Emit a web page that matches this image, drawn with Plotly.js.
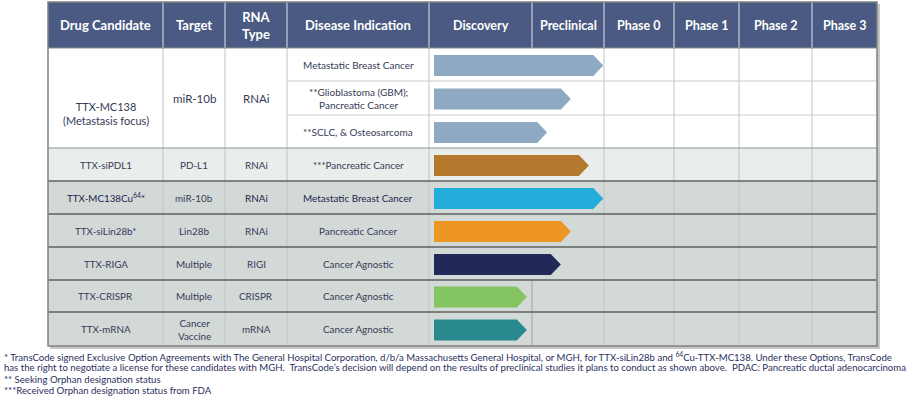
<!DOCTYPE html>
<html><head><meta charset="utf-8">
<script src="https://cdn.plot.ly/plotly-3.0.1.min.js"></script>
<style>html,body{margin:0;padding:0;background:#fff}#chart{width:914px;height:404px}</style>
</head><body><div id="chart"></div>
<script>
// ---------------- data ----------------
const columnHeaders = ["Drug Candidate", "Target", "RNA<br>Type", "Disease Indication"];
const phases = ["Discovery", "Preclinical", "Phase 0", "Phase 1", "Phase 2", "Phase 3"];
const candidates = ["TTX-MC138<br>(Metastasis focus)", "TTX-siPDL1", "TTX-MC138Cu<sup>64</sup>*", "TTX-siLin28b*", "TTX-RIGA", "TTX-CRISPR", "TTX-mRNA"];
const targets = ["miR-10b", "PD-L1", "miR-10b", "Lin28b", "Multiple", "Multiple", "Cancer<br>Vaccine"];
const rnaTypes = ["RNAi", "RNAi", "RNAi", "RNAi", "RIGI", "CRISPR", "mRNA"];
const indications = ["Metastatic Breast Cancer", "**Glioblastoma (GBM);<br>Pancreatic Cancer", "**SCLC, & Osteosarcoma", "***Pancreatic Cancer", "Metastatic Breast Cancer", "Pancreatic Cancer", "Cancer Agnostic", "Cancer Agnostic", "Cancer Agnostic"];
const indicationCandidate = [0, 0, 0, 1, 2, 3, 4, 5, 6];
// progress in phase units (0 = start of Discovery, 1 = start of Preclinical, 2 = start of Phase 0 ...)
const progress = [1.99, 1.54, 1.21, 1.79, 1.99, 1.54, 1.40, 0.95, 0.95];
const barColors = ["#8EA9C1", "#8EA9C1", "#8EA9C1", "#B5792D", "#23ACDC", "#EE9623", "#222858", "#84C562", "#288A8E"];
const footnotes = [
  "* TransCode signed Exclusive Option Agreements with The General Hospital Corporation, d/b/a Massachusetts General Hospital, or MGH, for TTX-siLin28b and <sup>64</sup>Cu-TTX-MC138. Under these Options, TransCode",
  "has the right to negotiate a license for these candidates with MGH.  TransCode\u2019s decision will depend on the results of preclinical studies it plans to conduct as shown above.  PDAC: Pancreatic ductal adenocarcinoma",
  "** Seeking Orphan designation status",
  "***Received Orphan designation status from FDA"
];

// ---------------- geometry ----------------
const colEdges = [48, 163, 225, 287, 429];
const phaseEdges = [429, 532, 604, 674, 739, 812, 877];
const tableTop = 2, headerBottom = 48;
const rowEdges = [48, 81, 115, 148, 181, 214, 247, 280, 312, 346];
const candRowSpan = [[0, 3], [3, 4], [4, 5], [5, 6], [6, 7], [7, 8], [8, 9]];
const rowBg = ["#FFFFFF", "#E9EDEC", "#D3D9D6", "#D3D9D6", "#D3D9D6", "#D3D9D6", "#D3D9D6"];
const FONT = "Lato, 'Open Sans', sans-serif";
const TXT = "#363B57";

const shapes = [], annotations = [], traces = [];
const L = colEdges[0], R = phaseEdges[phaseEdges.length - 1];
const bottom = rowEdges[rowEdges.length - 1];

// shadow
shapes.push({type: "rect", x0: L + 2, x1: R + 3, y0: tableTop + 2, y1: bottom + 3, fillcolor: "rgba(0,0,0,0.22)", line: {width: 0}, layer: "below"});
// row backgrounds
candRowSpan.forEach((s, i) => {
  shapes.push({type: "rect", x0: L, x1: R, y0: rowEdges[s[0]], y1: rowEdges[s[1]], fillcolor: rowBg[i], line: {width: 0}, layer: "below"});
});
// header
shapes.push({type: "rect", x0: L, x1: R, y0: tableTop, y1: headerBottom, fillcolor: "#4A5A82", line: {width: 0}, layer: "below"});
// header separators
const allEdges = colEdges.slice(1).concat(phaseEdges.slice(1, -1));
allEdges.forEach(x => shapes.push({type: "line", x0: x, x1: x, y0: tableTop, y1: headerBottom, line: {color: "#C9CFDD", width: 1.2}, layer: "below"}));
// body vertical lines
allEdges.forEach(x => {
  if (x === phaseEdges[1]) return;
  shapes.push({type: "line", x0: x, x1: x, y0: headerBottom, y1: bottom, line: {color: "#BFC4C3", width: 1}, layer: "below"});
});
// discovery/preclinical line only where bars stop before it
progress.forEach((p, r) => {
  if (p < 1) shapes.push({type: "line", x0: phaseEdges[1], x1: phaseEdges[1], y0: rowEdges[r], y1: rowEdges[r + 1], line: {color: "#9FA4A3", width: 1}, layer: "below"});
});
// sub-row separators within MC138 block (indication + phase cols)
[1, 2].forEach(k => shapes.push({type: "line", x0: colEdges[3], x1: R, y0: rowEdges[k], y1: rowEdges[k], line: {color: "#C8CCCC", width: 1}, layer: "below"}));
// main row separators
candRowSpan.forEach((s, i) => {
  const y = rowEdges[s[0]];
  shapes.push({type: "line", x0: L, x1: R, y0: y, y1: y, line: {color: i <= 1 ? "#8E9292" : "#5E6262", width: i <= 1 ? 1.2 : 1.5}, layer: "below"});
});
// outer border
shapes.push({type: "rect", x0: L, x1: R, y0: tableTop, y1: bottom, line: {color: "#7E8282", width: 1.5}, fillcolor: "rgba(0,0,0,0)", layer: "below"});

// header texts
const mid = (a, b) => (a + b) / 2;
columnHeaders.forEach((t, i) => annotations.push({x: mid(colEdges[i], colEdges[i + 1]), y: mid(tableTop, headerBottom), text: "<b>" + t + "</b>", showarrow: false, font: {family: FONT, size: 13, color: "#FFFFFF"}, xref: "x", yref: "y"}));
phases.forEach((t, i) => annotations.push({x: mid(phaseEdges[i], phaseEdges[i + 1]), y: mid(tableTop, headerBottom), text: "<b>" + t + "</b>", showarrow: false, font: {family: FONT, size: 12.5, color: "#FFFFFF"}, xref: "x", yref: "y"}));

// candidate texts
candRowSpan.forEach((s, i) => {
  const yc = mid(rowEdges[s[0]], rowEdges[s[1]]);
  const dy = s[1] - s[0] > 1 ? 15 : 0;
  const first = i === 0;
  annotations.push({x: mid(colEdges[0], colEdges[1]), y: yc + dy, text: candidates[i], showarrow: false, font: {family: FONT, size: first ? 11 : 9.8, color: i === 2 ? "#1F2550" : TXT}, xref: "x", yref: "y"});
  annotations.push({x: mid(colEdges[1], colEdges[2]), y: yc, text: targets[i], showarrow: false, font: {family: FONT, size: first ? 11.5 : 9.9, color: TXT}, xref: "x", yref: "y"});
  annotations.push({x: mid(colEdges[2], colEdges[3]), y: yc, text: rnaTypes[i], showarrow: false, font: {family: FONT, size: first ? 11.5 : 9.9, color: i === 2 ? "#1F2550" : TXT}, xref: "x", yref: "y"});
});
indications.forEach((t, r) => {
  annotations.push({x: mid(colEdges[3], colEdges[4]), y: mid(rowEdges[r], rowEdges[r + 1]), text: t, showarrow: false, font: {family: FONT, size: r < 3 ? 10 : 9.9, color: r === 4 ? "#1F2550" : TXT}, xref: "x", yref: "y"});
});

// arrows
function phaseX(p) {
  const k = Math.min(Math.floor(p), phaseEdges.length - 2);
  return phaseEdges[k] + (p - k) * (phaseEdges[k + 1] - phaseEdges[k]);
}
progress.forEach((p, r) => {
  const x0 = phaseEdges[0] + 5, tip = phaseX(p), notch = 10;
  const yc = mid(rowEdges[r], rowEdges[r + 1]) + 1, h = 10.5;
  traces.push({
    type: "scatter", mode: "lines", fill: "toself", fillcolor: barColors[r],
    line: {width: 0, color: barColors[r]}, hoverinfo: "skip", showlegend: false,
    x: [x0, tip - notch, tip, tip - notch, x0, x0],
    y: [yc - h, yc - h, yc, yc + h, yc + h, yc - h]
  });
});

// footnotes
const fnY = [356, 367.5, 379, 390];
footnotes.forEach((t, i) => annotations.push({x: 2, y: fnY[i], xanchor: "left", text: t, showarrow: false, font: {family: FONT, size: 9.6, color: "#2B3060"}, xref: "x", yref: "y"}));

const layout = {
  width: 914, height: 404, margin: {l: 0, r: 0, t: 0, b: 0},
  paper_bgcolor: "#FFFFFF", plot_bgcolor: "#FFFFFF",
  xaxis: {range: [0, 914], visible: false, fixedrange: true},
  yaxis: {range: [404, 0], visible: false, fixedrange: true},
  shapes: shapes, annotations: annotations, showlegend: false
};
Plotly.newPlot("chart", traces, layout, {staticPlot: true, displayModeBar: false});
</script>
</body></html>
